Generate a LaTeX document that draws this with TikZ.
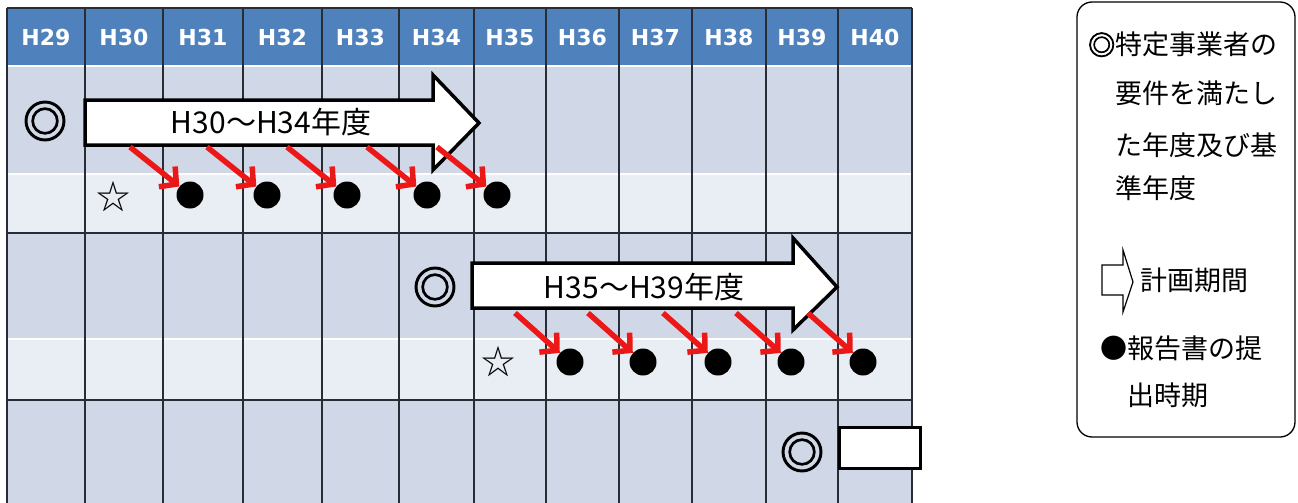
\documentclass[tikz,border=0pt]{standalone}
\usepackage{fontspec}
\usepackage{tikz}
\usetikzlibrary{arrows.meta,calc}
\newfontfamily\jpfont{Noto Sans CJK JP}
\newfontfamily\jpbold[FakeBold=3]{Noto Sans CJK JP}
\newfontfamily\hdrfont{DejaVu Sans}
\definecolor{hdrblue}{RGB}{79,129,189}
\definecolor{bandblue}{RGB}{208,216,232}
\definecolor{bandlight}{RGB}{233,237,244}
\definecolor{gridgray}{RGB}{40,44,52}
\definecolor{arrred}{RGB}{236,24,24}

\tikzset{
  hdr/.style={text=white, font=\hdrfont\bfseries\fontsize{22}{22}\selectfont},
  gridline/.style={gridgray, line width=1.6pt},
  dot/.style={circle, fill=black, inner sep=0pt, minimum size=27pt},
  redarr/.style={arrred, line width=5.5pt, -{Straight Barb[length=12pt,width=26pt]}},
  span/.style={draw=black, fill=white, line width=3.5pt, line join=miter},
  spanlbl/.style={font=\jpfont\fontsize{30}{30}\selectfont},
  dmark/.style={font=\jpbold\fontsize{44}{44}\selectfont, inner sep=0pt},
  starmark/.style={font=\jpfont\fontsize{34}{34}\selectfont, inner sep=0pt},
  legtxt/.style={anchor=base west, inner sep=0pt, font=\jpfont\fontsize{27}{27}\selectfont},
}

\begin{document}
\begin{tikzpicture}[x=1pt,y=-1pt]
\useasboundingbox (0,0) rectangle (1298,503);

% table bands
\fill[hdrblue] (7,8) rectangle (912,65);
\fill[bandblue] (7,67) rectangle (912,173);
\fill[bandlight] (7,175) rectangle (912,233);
\fill[bandblue] (7,233) rectangle (912,338);
\fill[bandlight] (7,340) rectangle (912,400);
\fill[bandblue] (7,400) rectangle (912,503);

% grid and year headers
\draw[gridline] (7,8) -- (912,8);
\draw[gridline] (7,233) -- (912,233);
\draw[gridline] (7,400) -- (912,400);
\draw[gridline] (7,8) -- (7,503);
\foreach \xa/\xb/\yr in {7/85/29,85/163/30,163/243/31,243/322/32,322/399/33,399/474/34,
                         474/546/35,546/619/36,619/692/37,692/766/38,766/838/39,838/912/40}{
  \draw[gridline] (\xb,8) -- (\xb,503);
  \node[hdr] (h\yr) at ({(\xa+\xb)/2},37) {H\yr};
}

% plan periods
\draw[span] (85,100) -- (433,100) -- (433,75) -- (479,123) -- (433,170) -- (433,145) -- (85,145) -- cycle;
\node[spanlbl] (p1) at (271,122) {H30～H34年度};
\draw[span] (472,263) -- (793,263) -- (793,238) -- (837,287) -- (793,330) -- (793,308) -- (472,308) -- cycle;
\node[spanlbl] (p2) at (644,287) {H35～H39年度};
\node[draw, fill=white, line width=3pt, inner sep=0pt, minimum width=81pt, minimum height=41pt] (p3) at (879.5,447.5) {};

% base years
\node[dmark] (m1) at (45,121) {◎};
\node[dmark] (m2) at (435,287) {◎};
\node[dmark] (m3) at (802,452) {◎};
\node[starmark] (s1) at (113,197) {☆};
\node[starmark] (s2) at (498,362) {☆};

% reports
\foreach \x [count=\i] in {190,267,347,427,497}{
  \node[dot] (a\i) at (\x,195) {};
  \coordinate (ra\i) at (\x-60,147);
  \draw[redarr] (ra\i) -- (a\i);
}
\foreach \x [count=\i] in {570,643,718,791,863}{
  \node[dot] (b\i) at (\x,362) {};
  \coordinate (rb\i) at (\x-55,313);
  \draw[redarr] (rb\i) -- (b\i);
}

% legend
\node[draw, line width=1.3pt, rounded corners=15pt, inner sep=0pt, minimum width=218pt, minimum height=435pt] (leg) at (1186,219.5) {};
\node[legtxt] (l1) at (1088,55) {{\jpbold ◎}特定事業者の};
\node[legtxt] (l2) at (1115,103) {要件を満たし};
\node[legtxt] (l3) at (1115,155) {た年度及び基};
\node[legtxt] (l4) at (1115,198) {準年度};
\draw[line width=1.2pt] (1102,265) -- (1123,265) -- (1123,250) -- (1133,282) -- (1123,312) -- (1123,295) -- (1102,295) -- cycle;
\node[legtxt] (l5) at (1140,290) {計画期間};
\node[legtxt] (l6) at (1100,358) {●報告書の提};
\node[legtxt] (l7) at (1127,405) {出時期};
\end{tikzpicture}
\end{document}
